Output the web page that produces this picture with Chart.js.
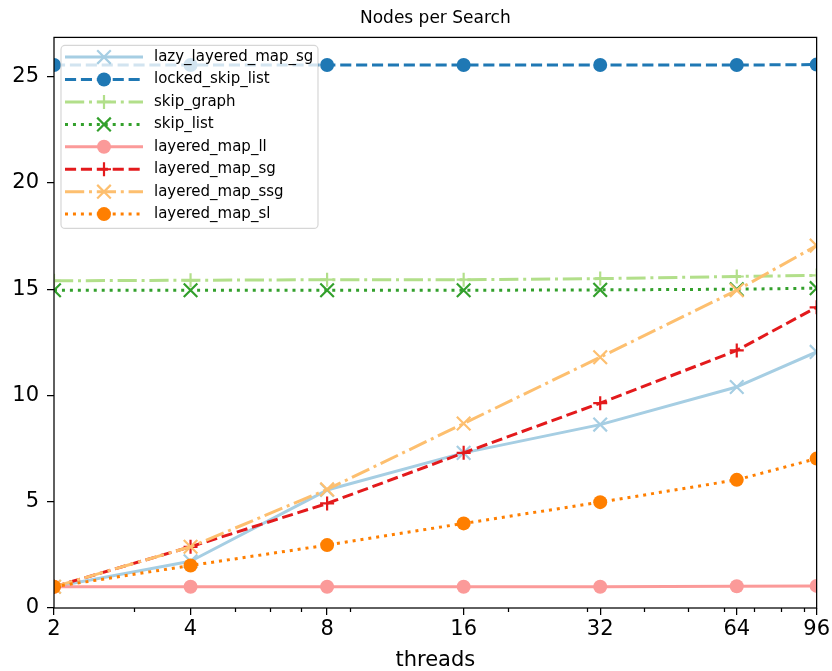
<!DOCTYPE html>
<html>
<head>
<meta charset="utf-8">
<script src="https://cdn.jsdelivr.net/npm/chart.js@4.4.1/dist/chart.umd.min.js"></script>
<style>
  html, body { margin: 0; padding: 0; background: #fff; }
  #wrap { width: 832px; height: 671px; }
</style>
</head>
<body>
<div id="wrap"><canvas id="c" width="832" height="671"></canvas></div>
<script>
// ---- data ----
const threads = [2, 4, 8, 16, 32, 64, 96];
const xTickValues = [2, 4, 8, 16, 32, 64, 96];
const xMinorTickValues = [3, 5, 6, 7, 9, 20, 30, 40, 50, 60, 70, 80, 90];
const yTickValues = [0, 5, 10, 15, 20, 25];
const seriesNames = ['lazy_layered_map_sg', 'locked_skip_list', 'skip_graph', 'skip_list',
                     'layered_map_ll', 'layered_map_sg', 'layered_map_ssg', 'layered_map_sl'];
const lazyLayeredMapSg = [1.0, 2.2, 5.55, 7.3, 8.63, 10.4, 12.05];
const lockedSkipList   = [25.55, 25.55, 25.55, 25.55, 25.55, 25.55, 25.57];
const skipGraph        = [15.4, 15.42, 15.45, 15.45, 15.5, 15.6, 15.65];
const skipList         = [14.95, 14.95, 14.95, 14.95, 14.97, 15.0, 15.05];
const layeredMapLl     = [1.0, 1.0, 1.0, 1.0, 1.0, 1.02, 1.04];
const layeredMapSg     = [1.0, 2.88, 4.92, 7.3, 9.64, 12.12, 14.15];
const layeredMapSsg    = [1.0, 2.88, 5.58, 8.68, 11.8, 14.95, 17.05];
const layeredMapSl     = [1.0, 2.0, 2.96, 3.98, 4.98, 6.03, 7.03];
const seriesValues = [lazyLayeredMapSg, lockedSkipList, skipGraph, skipList,
                      layeredMapLl, layeredMapSg, layeredMapSsg, layeredMapSl];

// ---- styles ----
const colors = ['#a6cee3', '#1f78b4', '#b2df8a', '#33a02c', '#fb9a99', '#e31a1c', '#fdbf6f', '#ff7f00'];
const LW = 3;
const dashes = [[], [11.1, 4.8], [19.2, 4.8, 3, 4.8], [3, 4.95]];
const markers = ['crossRot', 'circle', 'cross', 'crossRot', 'circle', 'cross', 'crossRot', 'circle'];
const FONT = "'DejaVu Sans', sans-serif";

function markerRadius(m) { return m === 'crossRot' ? 9.6 : 7; }
function markerBorder(m) { return m === 'circle' ? 0 : 2.2; }

const datasets = seriesNames.map((name, i) => ({
  label: name,
  data: threads.map((t, j) => ({ x: t, y: seriesValues[i][j] })),
  borderColor: colors[i],
  backgroundColor: colors[i],
  borderWidth: LW,
  borderDash: dashes[i % 4],
  borderCapStyle: 'butt',
  borderJoinStyle: 'round',
  pointStyle: markers[i],
  pointRadius: markerRadius(markers[i]),
  pointHoverRadius: markerRadius(markers[i]),
  pointBorderWidth: markerBorder(markers[i]),
  pointBorderColor: colors[i],
  pointBackgroundColor: colors[i],
  tension: 0,
  fill: false,
  clip: 0,
  order: seriesNames.length - i
}));

const framePlugin = {
  id: 'frame',
  afterDraw(chart) {
    const { ctx, chartArea: a } = chart;
    const xs = chart.scales.x;
    ctx.save();
    ctx.strokeStyle = '#000';
    ctx.lineWidth = 1.25;
    xMinorTickValues.forEach(v => {
      const px = Math.round(xs.getPixelForValue(v)) + 0.5;
      ctx.beginPath();
      ctx.moveTo(px, a.bottom);
      ctx.lineTo(px, a.bottom + 4);
      ctx.stroke();
    });
    ctx.strokeRect(a.left, a.top, a.right - a.left, a.bottom - a.top);
    ctx.restore();
  }
};

const legendPlugin = {
  id: 'mplLegend',
  afterDatasetsDraw(chart) {
    const { ctx, chartArea: a } = chart;
    const bx = a.left + 7, by = a.top + 8, bw = 257, bh = 183, r = 4;
    ctx.save();
    ctx.beginPath();
    ctx.moveTo(bx + r, by);
    ctx.arcTo(bx + bw, by, bx + bw, by + bh, r);
    ctx.arcTo(bx + bw, by + bh, bx, by + bh, r);
    ctx.arcTo(bx, by + bh, bx, by, r);
    ctx.arcTo(bx, by, bx + bw, by, r);
    ctx.closePath();
    ctx.fillStyle = 'rgba(255,255,255,0.8)';
    ctx.fill();
    ctx.strokeStyle = 'rgba(204,204,204,0.8)';
    ctx.lineWidth = 1.2;
    ctx.stroke();
    chart.data.datasets.forEach((ds, i) => {
      const y = by + 11.7 + i * 22.43;
      const x0 = bx + 4, x1 = bx + 82, xm = (x0 + x1) / 2;
      ctx.setLineDash(ds.borderDash);
      ctx.lineCap = 'butt';
      ctx.strokeStyle = ds.borderColor;
      ctx.lineWidth = ds.borderWidth;
      ctx.beginPath();
      ctx.moveTo(x0, y);
      ctx.lineTo(x1, y);
      ctx.stroke();
      ctx.setLineDash([]);
      ctx.fillStyle = ds.pointBackgroundColor;
      ctx.strokeStyle = ds.pointBorderColor;
      ctx.lineWidth = ds.pointBorderWidth;
      Chart.helpers.drawPoint(ctx, {
        pointStyle: ds.pointStyle, radius: ds.pointRadius,
        borderWidth: ds.pointBorderWidth, rotation: 0
      }, xm, y);
      ctx.fillStyle = '#000';
      ctx.font = "15px " + FONT;
      ctx.textBaseline = 'middle';
      ctx.textAlign = 'left';
      ctx.fillText(ds.label, bx + 93, y);
    });
    ctx.restore();
  }
};

new Chart(document.getElementById('c'), {
  type: 'line',
  data: { datasets },
  plugins: [legendPlugin, framePlugin],
  options: {
    responsive: false,
    animation: false,
    events: [],
    layout: { padding: { left: 0, right: 10, top: 0, bottom: 0 } },
    plugins: {
      legend: { display: false },
      tooltip: { enabled: false },
      title: {
        display: true,
        text: 'Nodes per Search',
        fullSize: false,
        color: '#000',
        font: { family: FONT, size: 17, weight: 'normal', lineHeight: 1.2 },
        padding: { top: 8, bottom: 9 }
      }
    },
    scales: {
      x: {
        type: 'logarithmic',
        min: 2,
        max: 96,
        afterBuildTicks: s => { s.ticks = xTickValues.map(v => ({ value: v })); },
        afterFit: s => { s.height = 63; },
        ticks: {
          color: '#000',
          font: { family: FONT, size: 21 },
          padding: 2,
          maxRotation: 0,
          autoSkip: false,
          callback: v => String(v)
        },
        grid: { display: true, drawOnChartArea: false, drawTicks: true, tickLength: 7, color: '#000', lineWidth: 1.25 },
        border: { display: false },
        title: {
          display: true,
          text: 'threads',
          color: '#000',
          font: { family: FONT, size: 21, lineHeight: 1.0 },
          padding: { top: 0, bottom: 0 }
        }
      },
      y: {
        type: 'linear',
        min: 0,
        max: 26.85,
        afterBuildTicks: s => { s.ticks = yTickValues.map(v => ({ value: v })); },
        afterFit: s => { s.width = 54; },
        ticks: {
          color: '#000',
          font: { family: FONT, size: 21 },
          padding: 8,
          callback: v => String(v)
        },
        grid: { display: true, drawOnChartArea: false, drawTicks: true, tickLength: 7, color: '#000', lineWidth: 1.25 },
        border: { display: false }
      }
    }
  }
});
</script>
</body>
</html>
